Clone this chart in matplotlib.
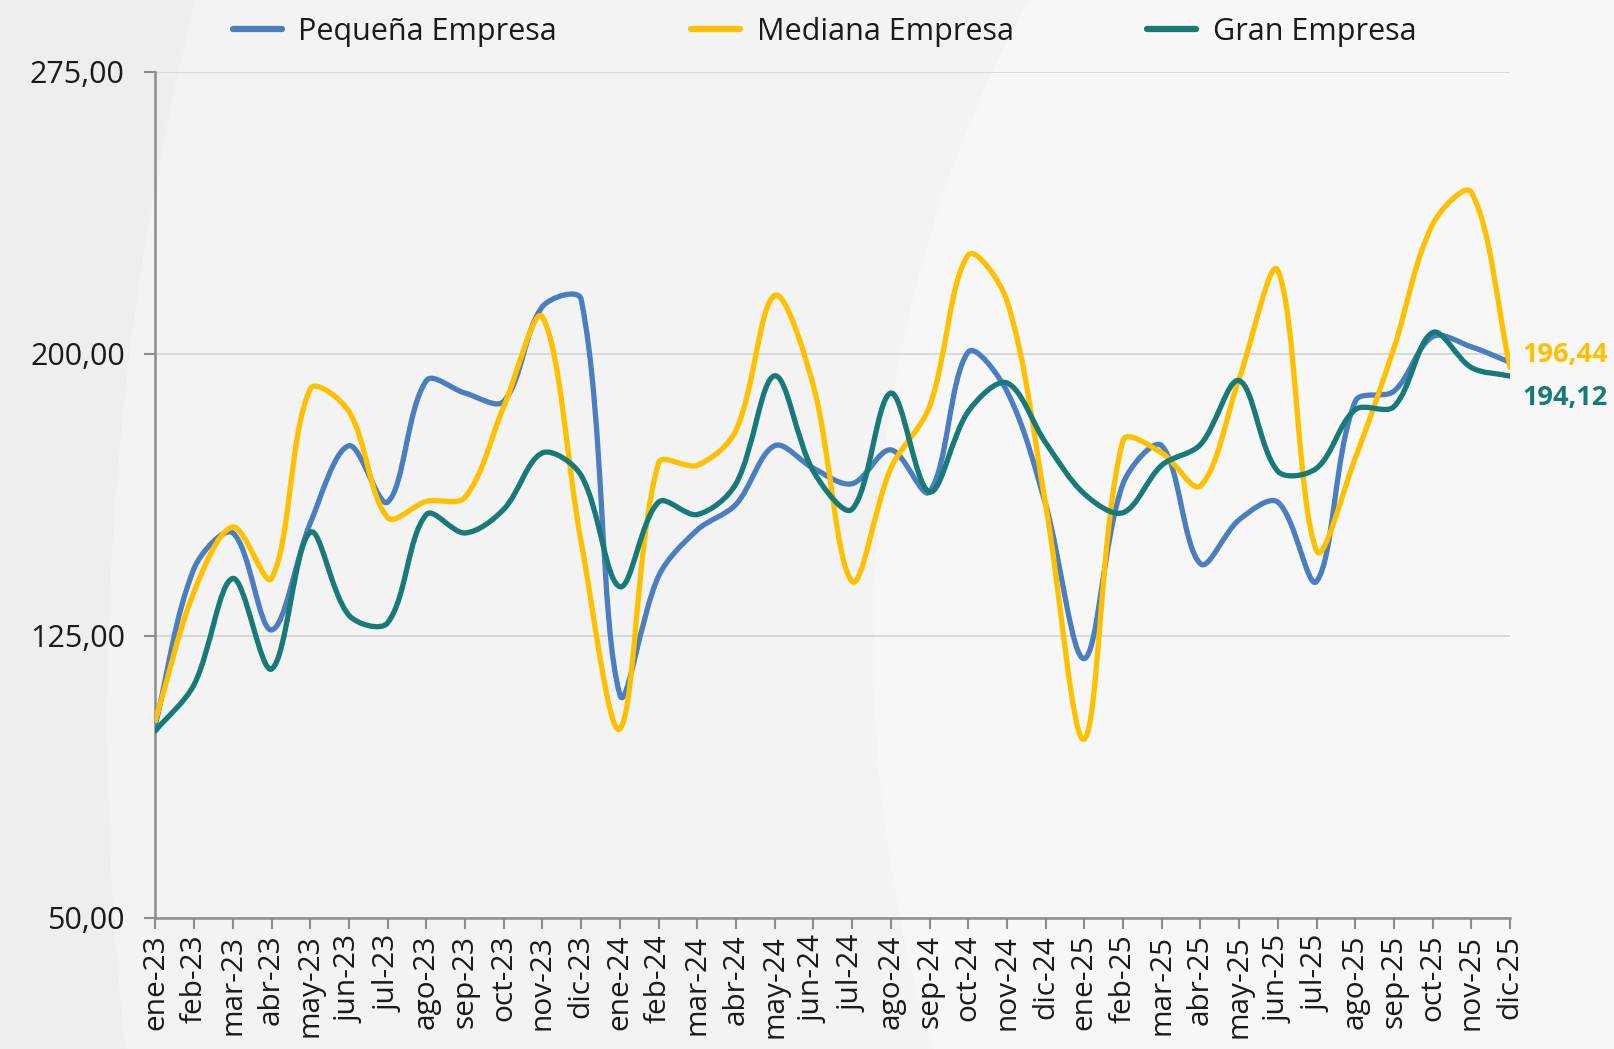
import matplotlib.pyplot as plt
from matplotlib.path import Path
from matplotlib.patches import PathPatch, Ellipse
import numpy as np

# Monthly labels
months = ['ene-23', 'feb-23', 'mar-23', 'abr-23', 'may-23', 'jun-23', 'jul-23', 'ago-23',
          'sep-23', 'oct-23', 'nov-23', 'dic-23', 'ene-24', 'feb-24', 'mar-24', 'abr-24',
          'may-24', 'jun-24', 'jul-24', 'ago-24', 'sep-24', 'oct-24', 'nov-24', 'dic-24',
          'ene-25', 'feb-25', 'mar-25', 'abr-25', 'may-25', 'jun-25', 'jul-25', 'ago-25',
          'sep-25', 'oct-25', 'nov-25', 'dic-25']

# Series values
pequena = [101.5, 143.0, 152.4, 126.6, 155.0, 175.6, 160.6, 192.9, 189.6, 187.4, 212.6, 214.5,
           109.4, 140.9, 153.2, 160.0, 175.6, 169.6, 165.5, 174.5, 163.3, 200.5, 190.1, 160.0,
           119.0, 165.5, 175.6, 144.2, 155.9, 160.6, 139.5, 187.4, 190.1, 204.6, 201.9, 197.8]
mediana = [102.5, 136.8, 154.0, 140.3, 190.7, 184.7, 156.5, 160.8, 161.9, 186.0, 209.8, 150.0,
           100.3, 171.0, 170.4, 179.7, 215.6, 191.5, 139.5, 169.6, 186.0, 226.3, 214.2, 160.0,
           97.6, 177.0, 173.7, 164.9, 193.4, 222.2, 147.7, 172.3, 201.6, 234.5, 243.0, 196.44]
gran = [99.8, 112.1, 140.3, 116.2, 152.6, 130.5, 128.5, 157.3, 152.4, 158.7, 173.7, 167.7,
        138.1, 160.6, 157.3, 165.5, 194.2, 168.8, 158.7, 189.6, 163.3, 184.7, 192.3, 176.4,
        162.8, 157.8, 170.4, 175.9, 192.9, 168.8, 169.6, 185.2, 186.0, 205.7, 196.4, 194.12]

series = [('Pequeña Empresa', pequena, '#4a7ebf'),
          ('Mediana Empresa', mediana, '#ffc000'),
          ('Gran Empresa', gran, '#177a78')]

# vertical/horizontal pixel ratio (value unit vs month unit) for the smoothing
Y_ASPECT = 3.653 / 37.6


def smooth_path(ys):
    # Excel-like smoothed line: Bezier segments, tangents split by chord lengths
    n = len(ys)
    pts = np.column_stack([np.arange(n, dtype=float), np.asarray(ys, dtype=float)])
    sc = np.array([1.0, Y_ASPECT])
    c_in = pts.copy()
    c_out = pts.copy()
    for i in range(n):
        prv = pts[i - 1] if i > 0 else pts[i]
        nxt = pts[i + 1] if i < n - 1 else pts[i]
        d = nxt - prv
        lp = np.hypot(*((pts[i] - prv) * sc))
        ln = np.hypot(*((nxt - pts[i]) * sc))
        if lp + ln == 0:
            continue
        c_in[i] = pts[i] - d * lp / (lp + ln) / 3.0
        c_out[i] = pts[i] + d * ln / (lp + ln) / 3.0
    verts = [pts[0]]
    codes = [Path.MOVETO]
    for i in range(n - 1):
        verts += [c_out[i], c_in[i + 1], pts[i + 1]]
        codes += [Path.CURVE4] * 3
    return Path(verts, codes)


fig = plt.figure(figsize=(16.14, 10.49), dpi=100)
fig.patch.set_facecolor('#eeeeee')

# Background shapes
fig.patches.append(Ellipse((0.929, 0.3136), 1.725, 3.93, transform=fig.transFigure,
                           facecolor='#f3f3f3', edgecolor='none', zorder=-10))
fig.patches.append(Ellipse((0.9566, 0.392), 0.8315, 1.895, transform=fig.transFigure,
                           facecolor='#f7f7f7', edgecolor='none', zorder=-9))

ax = fig.add_axes([0.0963, 0.1249, 0.8393, 0.8065])
ax.set_facecolor('none')

for name, vals, color in series:
    patch = PathPatch(smooth_path(vals), facecolor='none', edgecolor=color, lw=3.8,
                      capstyle='round', joinstyle='round', zorder=3)
    ax.add_patch(patch)
    ax.plot([], [], color=color, lw=4.5, solid_capstyle='round', label=name)

ax.set_xlim(0, len(months) - 1)
ax.set_ylim(50, 275)
ax.set_yticks([50, 125, 200, 275])
ax.set_yticklabels(['50,00', '125,00', '200,00', '275,00'], fontsize=22, family='Open Sans')
ax.set_xticks(range(len(months)))
ax.set_xticklabels(months, rotation=90, fontsize=21.5, family='Open Sans')
ax.grid(axis='y', color='#d6d6d6', lw=1.3)
ax.set_axisbelow(True)

for side in ['top', 'right']:
    ax.spines[side].set_visible(False)
for side in ['left', 'bottom']:
    ax.spines[side].set_color('#8c8c8c')
    ax.spines[side].set_linewidth(1.8)
ax.tick_params(axis='both', colors='#8c8c8c', labelcolor='#1a1a1a', width=1.5, length=8)
ax.tick_params(axis='y', pad=14)
ax.tick_params(axis='x', pad=4)

# End labels
ax.annotate('196,44', xy=(len(months) - 1, mediana[-1]), xytext=(9, 9),
            textcoords='offset points', color='#ffc000', fontsize=19.5, fontweight='bold',
            family='Open Sans', va='center', ha='left', annotation_clip=False)
ax.annotate('194,12', xy=(len(months) - 1, gran[-1]), xytext=(9, -16),
            textcoords='offset points', color='#177a78', fontsize=19.5, fontweight='bold',
            family='Open Sans', va='center', ha='left', annotation_clip=False)

leg = fig.legend(loc='upper center', bbox_to_anchor=(0.511, 1.010), ncol=3, frameon=False,
                 prop={'family': 'Open Sans', 'size': 22}, handlelength=1.6,
                 columnspacing=4.38, handletextpad=0.55)
for t in leg.get_texts():
    t.set_color('#1a1a1a')

plt.savefig('out.png', dpi=100, facecolor=fig.get_facecolor())
